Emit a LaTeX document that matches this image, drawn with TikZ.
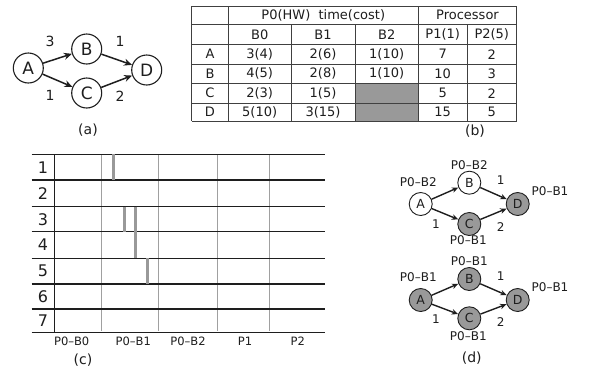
\documentclass[tikz,border=0pt]{standalone}
\usepackage{fontspec}
\setmainfont{DejaVu Sans}
\usetikzlibrary{arrows.meta}
\definecolor{ink}{HTML}{1E1E1E}
\definecolor{cellgray}{HTML}{999999}
\definecolor{gridgray}{HTML}{A0A0A0}
\newcommand{\fs}[1]{\fontsize{#1}{#1}\selectfont}
\begin{document}
\begin{tikzpicture}[x=1pt,y=-1pt,
  gnodeA/.style={circle,draw=ink,line width=1.1pt,minimum size=30pt,inner sep=0pt,font=\fs{17},text=ink},
  garrA/.style={-{Stealth[length=8pt,width=7pt]},line width=1.5pt,draw=ink},
  elabA/.style={font=\fs{14},text=ink},
  gnodeD/.style={circle,draw=ink,line width=0.9pt,minimum size=23pt,inner sep=0pt,font=\fs{12.5},text=ink},
  grayD/.style={gnodeD,fill=cellgray},
  garrD/.style={-{Stealth[length=6.5pt,width=5.5pt]},line width=1.4pt,draw=ink},
  dlab/.style={font=\fs{12},text=ink,inner sep=0pt},
  tline/.style={line width=1pt,draw=ink!85},
  ttext/.style={font=\fs{13},text=ink,inner sep=0pt},
  capt/.style={font=\fs{14},text=ink,inner sep=0pt},
  hline/.style={line width=1.3pt,draw=ink},
  vgray/.style={line width=1pt,draw=gridgray},
  barg/.style={line width=3pt,draw=cellgray},
  rlab/.style={font=\fs{16},text=ink,inner sep=0pt},
  clab/.style={font=\fs{11.5},text=ink,inner sep=0pt}]
\useasboundingbox[fill=white] (0,0) rectangle (607,368);

% ---------- (a)
\node[gnodeA] (aA) at (28.3,68) {A};
\node[gnodeA] (aB) at (86.7,49) {B};
\node[gnodeA] (aC) at (86.7,93) {C};
\node[gnodeA] (aD) at (146.7,70) {D};
\draw[garrA] (aA) -- (aB);
\draw[garrA] (aA) -- (aC);
\draw[garrA] (aB) -- (aD);
\draw[garrA] (aC) -- (aD);
\node[elabA] (la1) at (50,41.7) {3};
\node[elabA] (la2) at (120,41.7) {1};
\node[elabA] (la3) at (50,95) {1};
\node[elabA] (la4) at (120,96.7) {2};
\node[capt] (capa) at (88,130) {(a)};

% ---------- (b)
\fill[cellgray] (355,83.3) rectangle (418.3,121);
\foreach \y in {6,24.5,44.5,64,83.3,103,121}
  \draw[tline] (191.7,\y) -- (516.7,\y);
\foreach \x in {191.7,228.3,418.3,516.7}
  \draw[tline] (\x,6) -- (\x,121);
\foreach \x in {291,355,467}
  \draw[tline] (\x,24.5) -- (\x,121);
\node[ttext] (th1) at (323.3,15.2) {P0(HW)\ \ time(cost)};
\node[ttext] (th2) at (467.5,15.2) {Processor};
\node[ttext] (tb0) at (259.7,34.5) {B0};
\node[ttext] (tb1) at (323,34.5) {B1};
\node[ttext] (tb2) at (386.7,34.5) {B2};
\node[ttext] (tp1) at (442.7,34.5) {P1(1)};
\node[ttext] (tp2) at (491.8,34.5) {P2(5)};
\node[ttext] (rA) at (210,54.2) {A};
\node[ttext] (rB) at (210,73.7) {B};
\node[ttext] (rC) at (210,93.2) {C};
\node[ttext] (rD) at (210,112) {D};
\node[ttext] (a0) at (259.7,54.2) {3(4)};
\node[ttext] (a1) at (323,54.2) {2(6)};
\node[ttext] (a2) at (386.7,54.2) {1(10)};
\node[ttext] (a3) at (442.7,54.2) {7};
\node[ttext] (a4) at (491.8,54.2) {2};
\node[ttext] (b0) at (259.7,73.7) {4(5)};
\node[ttext] (b1) at (323,73.7) {2(8)};
\node[ttext] (b2) at (386.7,73.7) {1(10)};
\node[ttext] (b3) at (442.7,73.7) {10};
\node[ttext] (b4) at (491.8,73.7) {3};
\node[ttext] (c0) at (259.7,93.2) {2(3)};
\node[ttext] (c1) at (323,93.2) {1(5)};
\node[ttext] (c3) at (442.7,93.2) {5};
\node[ttext] (c4) at (491.8,93.2) {2};
\node[ttext] (d0) at (259.7,112) {5(10)};
\node[ttext] (d1) at (323,112) {3(15)};
\node[ttext] (d3) at (442.7,112) {15};
\node[ttext] (d4) at (491.8,112) {5};
\node[capt] (capb) at (475,131) {(b)};

% ---------- (c)
\foreach \x in {101,158.7,217.7,269.3}
  \draw[vgray] (\x,154.3) -- (\x,330.5);
\foreach \y in {154.3,180,206.7,231.7,258.3,284,309,332.3}
  \draw[hline] (31.7,\y) -- (325,\y);
\draw[hline] (54.3,154.3) -- (54.3,332.3);
\draw[barg] (113.3,154.3) -- (113.3,180);
\draw[barg] (124,206.7) -- (124,231.7);
\draw[barg] (135.7,206.7) -- (135.7,258.3);
\draw[barg] (147.7,258.3) -- (147.7,284);
\node[rlab] (r1) at (43,167.2) {1};
\node[rlab] (r2) at (43,193.3) {2};
\node[rlab] (r3) at (43,219.2) {3};
\node[rlab] (r4) at (43,245) {4};
\node[rlab] (r5) at (43,271.2) {5};
\node[rlab] (r6) at (43,296.5) {6};
\node[rlab] (r7) at (43,320.7) {7};
\node[clab] (cl1) at (71.7,341) {P0–B0};
\node[clab] (cl2) at (133.3,341) {P0–B1};
\node[clab] (cl3) at (188,341) {P0–B2};
\node[clab] (cl4) at (245,341) {P1};
\node[clab] (cl5) at (297.7,341) {P2};
\node[capt] (capc) at (83,360) {(c)};

% ---------- (d) top
\node[gnodeD] (tA) at (420.7,204) {A};
\node[gnodeD] (tB) at (469.3,182.7) {B};
\node[grayD] (tC) at (469.3,224) {C};
\node[grayD] (tD) at (517.7,204) {D};
\draw[garrD] (tA) -- (tB);
\draw[garrD] (tA) -- (tC);
\draw[garrD] (tB) -- (tD);
\draw[garrD] (tC) -- (tD);
\node[dlab] (tlA) at (418.3,181.7) {P0–B2};
\node[dlab] (tlB) at (469.3,165) {P0–B2};
\node[dlab] (tlD) at (550,191) {P0–B1};
\node[dlab] (tlC) at (468.3,240) {P0–B1};
\node[dlab] (te1) at (500.7,180) {1};
\node[dlab] (te2) at (436,224.3) {1};
\node[dlab] (te3) at (500.7,226.7) {2};

% ---------- (d) bottom
\node[grayD] (bA) at (420.7,300) {A};
\node[grayD] (bB) at (469.3,279) {B};
\node[grayD] (bC) at (469.3,318.3) {C};
\node[grayD] (bD) at (517.7,300) {D};
\draw[garrD] (bA) -- (bB);
\draw[garrD] (bA) -- (bC);
\draw[garrD] (bB) -- (bD);
\draw[garrD] (bC) -- (bD);
\node[dlab] (blA) at (418.3,277.3) {P0–B1};
\node[dlab] (blB) at (469.3,260.7) {P0–B1};
\node[dlab] (blD) at (550,287.3) {P0–B1};
\node[dlab] (blC) at (468.3,336) {P0–B1};
\node[dlab] (be1) at (500.7,275.7) {1};
\node[dlab] (be2) at (436,319.3) {1};
\node[dlab] (be3) at (500.7,321.7) {2};
\node[capt] (capd) at (471.7,358.3) {(d)};
\end{tikzpicture}
\end{document}
